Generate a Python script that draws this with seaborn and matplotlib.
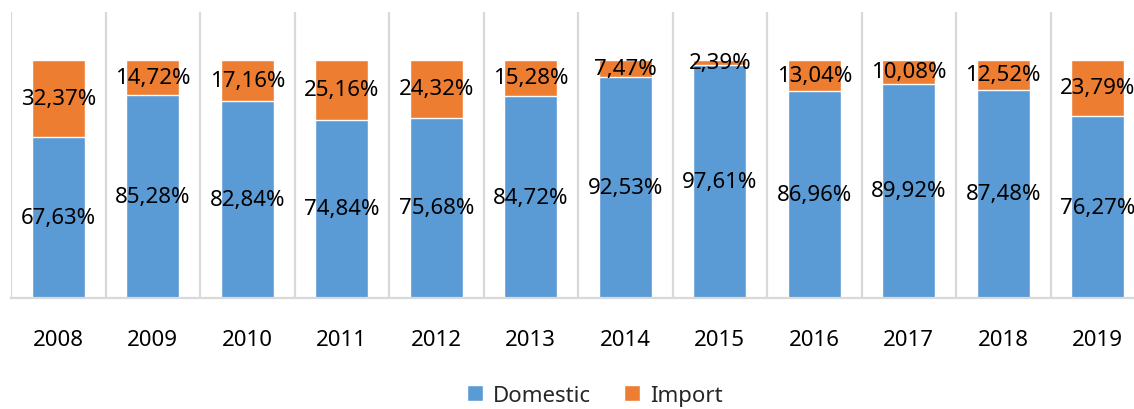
import numpy as np
import pandas as pd
import matplotlib.pyplot as plt
import seaborn as sns

sns.set_theme(style="white")
plt.rcParams['font.family'] = ['Noto Sans', 'DejaVu Sans']

years = ['2008', '2009', '2010', '2011', '2012', '2013',
         '2014', '2015', '2016', '2017', '2018', '2019']
domestic = [67.63, 85.28, 82.84, 74.84, 75.68, 84.72,
            92.53, 97.61, 86.96, 89.92, 87.48, 76.27]
imports = [32.37, 14.72, 17.16, 25.16, 24.32, 15.28,
           7.47, 2.39, 13.04, 10.08, 12.52, 23.79]

BLUE = '#5B9BD5'
ORANGE = '#ED7D31'
GRID = '#D9D9D9'

df = pd.DataFrame({'Year': years, 'Domestic': domestic, 'Import': imports})
df['Total'] = df['Domestic'] + df['Import']

fig = plt.figure(figsize=(11.34, 4.10), dpi=100)
# axes run slightly past the right edge, like the cropped original
ax = fig.add_axes([11 / 1134, 1 - 299 / 410, 1134 / 1134, 286 / 410])

sns.barplot(data=df, x='Year', y='Total', color=ORANGE, width=0.56,
            saturation=1, ax=ax, label='Import')
sns.barplot(data=df, x='Year', y='Domestic', color=BLUE, width=0.56,
            saturation=1, ax=ax, label='Domestic')
handles, labels = ax.get_legend_handles_labels()
if ax.get_legend() is not None:
    ax.get_legend().remove()


def fmt(v):
    return f"{v:.2f}".replace('.', ',') + '%'


for i, (d, im) in enumerate(zip(domestic, imports)):
    ax.text(i, d / 2, fmt(d), ha='center', va='center', fontsize=16, color='black')
    ax.text(i, d + im / 2, fmt(im), ha='center', va='center', fontsize=16, color='black')

ax.set_xlim(-0.5, 11.5)
ax.set_ylim(0, 120)
ax.set_xlabel('')
ax.set_ylabel('')
ax.set_yticks([])
ax.set_xticks(np.arange(len(years)))
ax.set_xticklabels(years, fontsize=16, color='black')
ax.tick_params(axis='x', length=0, pad=22)

ax.set_xticks(np.arange(-0.5, len(years), 1), minor=True)
ax.tick_params(axis='x', which='minor', length=0)
ax.grid(which='minor', axis='x', color=GRID, linewidth=1.6)
ax.set_axisbelow(True)

for side in ['top', 'right', 'left']:
    ax.spines[side].set_visible(False)
ax.spines['bottom'].set_color(GRID)
ax.spines['bottom'].set_linewidth(1.6)

order = [labels.index('Domestic'), labels.index('Import')]
fig.legend([handles[k] for k in order], [labels[k] for k in order],
           loc='lower center', bbox_to_anchor=(595 / 1134, 0.0),
           borderaxespad=0.05, borderpad=0.1,
           ncol=2, frameon=False, fontsize=16, handlelength=0.7,
           handleheight=0.7, handletextpad=0.45, columnspacing=1.5)

fig.savefig('out.png', dpi=100)
